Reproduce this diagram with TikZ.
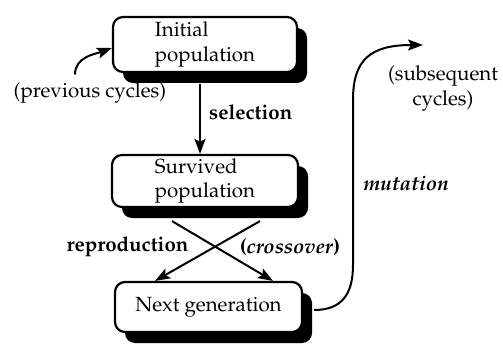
\documentclass[tikz,border=0pt]{standalone}
\usepackage[T1]{fontenc}
\usepackage{mathpazo}
\usetikzlibrary{arrows.meta,shadows,calc}
\begin{document}
\begin{tikzpicture}[x=1pt,y=1pt,
  font=\fontsize{20.5}{24.5}\selectfont,
  box/.style={draw, line width=2.2pt, rounded corners=10pt, fill=white, inner sep=0pt,
    drop shadow={shadow xshift=10pt, shadow yshift=-11pt, fill=black, opacity=1}},
  arr/.style={line width=2pt, -{Stealth[length=15pt,width=11pt,inset=3pt]}},
  lbl/.style={inner sep=0pt}]
\useasboundingbox (0,0) rectangle (503,343);
\node[box, minimum width=184pt, minimum height=55pt, align=left] (b1) at (205,298.5) {Initial\\population};
\node[box, minimum width=186pt, minimum height=52pt, align=left] (b2) at (205,162) {Survived\\population};
\node[box, minimum width=187pt, minimum height=50pt] (b3) at (208.5,36) {Next generation};
\node[lbl] (pc) at (90,250) {(previous cycles)};
\node[lbl, anchor=west] (sel) at (209,231) {\bfseries selection};
\node[lbl] (rep) at (127.5,96) {\bfseries reproduction};
\node[lbl] (cro) at (290,96) {\bfseries(\textit{crossover})};
\node[lbl] (mut) at (406,160) {\bfseries\itshape mutation};
\node[lbl, align=center] (sub) at (443,254.5) {(subsequent\\cycles)};
\coordinate (sc) at (423,298);
\draw[arr] ([xshift=-15pt,yshift=8pt]pc.north) to[out=90,in=200] ([yshift=-3.5pt]b1.west);
\draw[arr] ([xshift=-5pt,yshift=-11pt]b1.south) -- ([xshift=-5pt]b2.north);
\draw[arr] ([xshift=-33pt,yshift=-13pt]b2.south) -- ([xshift=64.5pt]b3.north);
\draw[arr] ([xshift=55pt,yshift=-13pt]b2.south) -- ([xshift=-53.5pt]b3.north);
\draw[arr] ([xshift=11pt,yshift=-3pt]b3.east) .. controls +(27,0) and +(0,-30) .. (353,78)
  -- (353,243) .. controls +(0,40) and +(-53,0) .. (sc);
\end{tikzpicture}
\end{document}
